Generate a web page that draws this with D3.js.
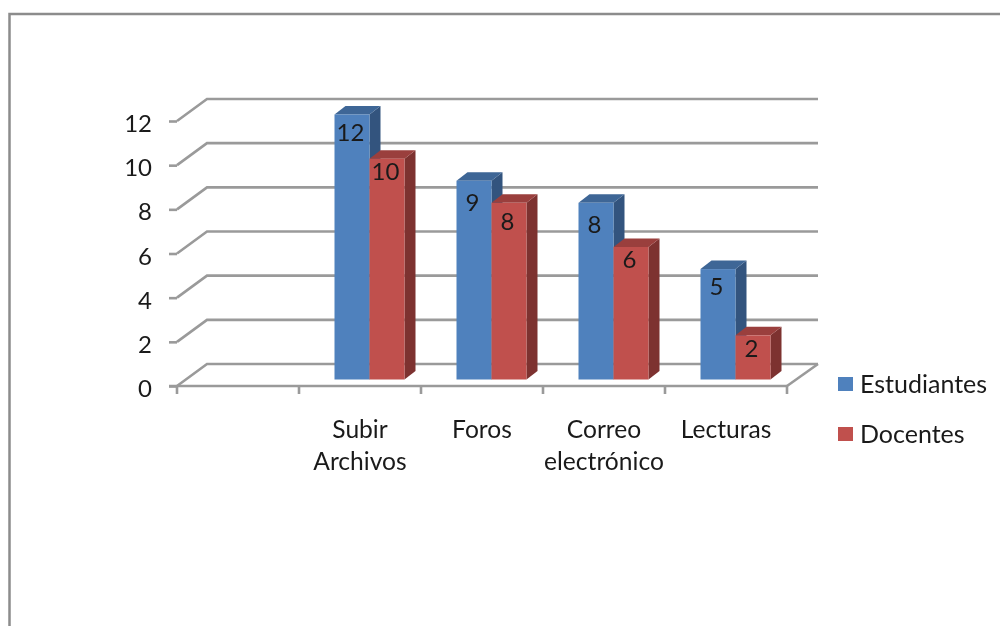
<!DOCTYPE html>
<html>
<head>
<meta charset="utf-8">
<script src="https://cdn.jsdelivr.net/npm/d3@7"></script>
<style>
  html, body { margin: 0; background: #fff; }
  svg { display: block; }
  text { font-family: Lato, "Open Sans", sans-serif; fill: #1a1a1a; }
  .soft { filter: blur(0.5px); }
</style>
</head>
<body>
<div id="container"></div>
<script>
// data
const categories = ['', 'Subir Archivos', 'Foros', 'Correo electrónico', 'Lecturas']
const seriesNames = ['Estudiantes', 'Docentes']
const estudiantes = [null, 12, 9, 8, 5]
const docentes = [null, 10, 8, 6, 2]
const yTicks = [0, 2, 4, 6, 8, 10, 12]

const w = 1000
const h = 626
const gridColor = '#9a9a9a'
const gridWidth = 2.6
const colors = {
  Estudiantes: { front: '#4f81bd', top: '#3e6696', side: '#33547e' },
  Docentes: { front: '#c0504d', top: '#9a3f3d', side: '#7d3230' },
}

// 3d offset of the back wall, and of the bars' depth
const wall = { dx: 30, dy: -22 }
const depth = { dx: 11, dy: -8.5 }

// the value labels were moved by hand in the original, baseline below bar top
const labelDy = {
  Estudiantes: { 'Subir Archivos': 26.5, 'Foros': 30.5, 'Correo electrónico': 30.5, 'Lecturas': 25.5 },
  Docentes: { 'Subir Archivos': 21.5, 'Foros': 27.5, 'Correo electrónico': 20.5, 'Lecturas': 21.5 },
}

const svg = d3.select('#container').append('svg')
  .attr('width', w)
  .attr('height', h)

// frame of the pasted picture, cut by the window on the right and bottom
svg.append('path')
  .attr('d', d3.line()([[9.5, h], [9.5, 14], [w, 14]]))
  .attr('fill', 'none')
  .attr('stroke', '#8c8c8c')
  .attr('stroke-width', 2.5)

const root = svg.append('g').attr('class', 'soft')

// scales
const xScale = d3.scaleBand().domain(categories).range([177, 787])
const yScale = d3.scaleLinear().domain([0, 12]).range([386, 121])

// walls: each grid line goes from the front axis up to the back wall
const wallLine = d3.line()
root.append('g').selectAll('path')
  .data(yTicks)
  .join('path')
  .attr('d', d => wallLine([
    [xScale.range()[0], yScale(d)],
    [xScale.range()[0] + wall.dx, yScale(d) + wall.dy],
    [xScale.range()[1] + wall.dx + 1, yScale(d) + wall.dy],
  ]))
  .attr('fill', 'none')
  .attr('stroke', gridColor)
  .attr('stroke-width', gridWidth)

// right edge of the floor
root.append('path')
  .attr('d', wallLine([
    [xScale.range()[1], yScale(0)],
    [xScale.range()[1] + wall.dx + 1, yScale(0) + wall.dy],
  ]))
  .attr('fill', 'none')
  .attr('stroke', gridColor)
  .attr('stroke-width', gridWidth)

// bars stand a little behind the front of the floor
const barBase = -6.5
const barShift = 9.5
const barWidth = 35
const rows = categories.map((c, i) => ({ category: c, values: [estudiantes[i], docentes[i]] }))
  .filter(d => d.values[0] !== null)

const groups = root.append('g').selectAll('g')
  .data(rows)
  .join('g')

const bars = groups.selectAll('g')
  .data(d => d.values.map((v, i) => ({
    value: v,
    name: seriesNames[i],
    category: d.category,
    x0: xScale(d.category) + xScale.bandwidth() / 2 - barWidth + barShift + i * barWidth,
  })))
  .join('g')

const poly = pts => 'M' + pts.join('L') + 'Z'
const barTop = d => yScale(d.value) + barBase
const barBottom = () => yScale(0) + barBase

// side face
bars.append('path')
  .attr('fill', d => colors[d.name].side)
  .attr('d', d => poly([
    [d.x0 + barWidth, barTop(d)],
    [d.x0 + barWidth + depth.dx, barTop(d) + depth.dy],
    [d.x0 + barWidth + depth.dx, barBottom() + depth.dy],
    [d.x0 + barWidth, barBottom()],
  ]))
// top face
bars.append('path')
  .attr('fill', d => colors[d.name].top)
  .attr('d', d => poly([
    [d.x0, barTop(d)],
    [d.x0 + depth.dx, barTop(d) + depth.dy],
    [d.x0 + barWidth + depth.dx, barTop(d) + depth.dy],
    [d.x0 + barWidth, barTop(d)],
  ]))
// front face
bars.append('rect')
  .attr('x', d => d.x0)
  .attr('y', barTop)
  .attr('width', barWidth)
  .attr('height', d => barBottom() - barTop(d))
  .attr('fill', d => colors[d.name].front)
// value labels
bars.append('text')
  .attr('x', d => d.x0 + barWidth / 2 - 1.5)
  .attr('y', d => barTop(d) + labelDy[d.name][d.category])
  .attr('text-anchor', 'middle')
  .attr('font-size', 24)
  .text(d => d.value)

// y axis
const yAxis = d3.axisLeft(yScale).tickValues(yTicks).tickSize(8).tickPadding(17)
const yG = root.append('g').attr('transform', 'translate(177,0)').call(yAxis)
yG.select('.domain').remove()
yG.selectAll('line').attr('stroke', gridColor).attr('stroke-width', gridWidth)
yG.selectAll('text').attr('font-size', 24).attr('font-family', null).attr('dy', '0.44em').style('fill', '#1a1a1a')
yG.attr('font-family', null)

// x axis: ticks sit between the categories
const xG = root.append('g').attr('transform', `translate(0,${yScale(0)})`)
const tickX = d3.range(categories.length + 1).map(i => xScale.range()[0] + i * xScale.step())
xG.append('path')
  .attr('d', wallLine([[xScale.range()[0] - 8, 0], [xScale.range()[1], 0]]))
  .attr('stroke', gridColor)
  .attr('stroke-width', gridWidth)
xG.selectAll('line')
  .data(tickX)
  .join('line')
  .attr('x1', d => d)
  .attr('x2', d => d)
  .attr('y1', 0)
  .attr('y2', 8)
  .attr('stroke', gridColor)
  .attr('stroke-width', gridWidth)

// category labels, wrapped on the space
const labels = root.append('g').selectAll('text')
  .data(categories.filter(c => c))
  .join('text')
  .attr('text-anchor', 'middle')
  .attr('font-size', 24.6)
  .attr('y', 438)
labels.selectAll('tspan')
  .data(d => d.split(' ').map(word => ({ word, cat: d })))
  .join('tspan')
  .attr('x', d => xScale(d.cat) + xScale.bandwidth() / 2)
  .attr('dy', (d, i) => i ? 31.5 : 0)
  .text(d => d.word)

// legend
const legend = root.append('g').selectAll('g')
  .data(seriesNames)
  .join('g')
  .attr('transform', (d, i) => `translate(838,${377 + i * 50})`)
legend.append('rect')
  .attr('width', 15)
  .attr('height', 14)
  .attr('fill', d => colors[d].front)
legend.append('text')
  .attr('x', 22)
  .attr('y', 16)
  .attr('font-size', 25)
  .text(d => d)
</script>
</body>
</html>
